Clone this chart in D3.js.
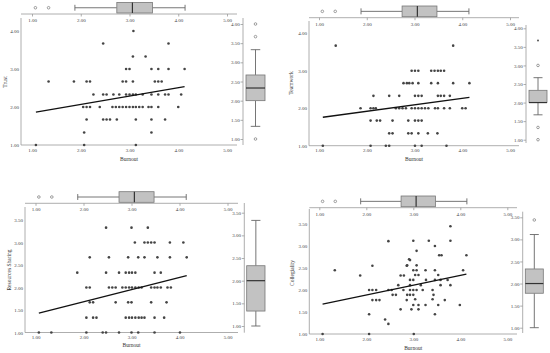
<!DOCTYPE html>
<html>
<head>
<meta charset="utf-8">
<script src="https://cdn.jsdelivr.net/npm/d3@7"></script>
<style>
  body { margin: 0; background: #fff; }
  text { font-family: "Liberation Serif", "DejaVu Serif", serif; fill: #333; }
</style>
</head>
<body>
<script>
// ---------------------------------------------------------------
// DATA
// ---------------------------------------------------------------
var xTicks = [1, 2, 3, 4, 5]

// burnout distribution (top boxplot, same in every panel)
var burnoutStats    = [1.88, 2.74, 3.06, 3.47, 4.14]   // lo whisker, q1, median, q3, hi whisker
var burnoutOutliers = [1.07, 1.34]

// Trust
var trustScore = [4.00, 3.67, 3.33, 3.00, 2.67, 2.33, 2.00, 1.67, 1.33, 1.00]
var trustBurnout = [
  [3.08],
  [2.46, 3.80],
  [3.07, 3.33],
  [2.93, 3.00, 3.45, 3.59, 3.80, 4.13],
  [1.34, 1.86, 2.12, 2.19, 2.86, 2.93, 3.07, 3.52, 3.59, 3.66],
  [2.26, 2.46, 2.53, 2.67, 2.79, 2.93, 3.00, 3.07, 3.13, 3.27, 3.45, 3.59, 3.73, 3.80, 4.06],
  [2.05, 2.12, 2.19, 2.39, 2.65, 2.72, 2.79, 2.86, 2.93, 3.00, 3.07, 3.13, 3.20, 3.27, 3.39, 3.45, 3.59, 4.00],
  [2.12, 2.46, 2.53, 2.60, 2.74, 3.13, 3.45, 3.73],
  [2.07, 3.45],
  [1.08, 2.07, 3.13]
]
var trustFit      = [1.63, 0.22]        // intercept, slope
var trustStats    = [1.33, 2.00, 2.33, 2.67, 3.33]
var trustOutliers = [1.00, 3.67, 4.00]
var trustExtremes = []

// Teamwork
var teamworkScore = [3.67, 3.00, 2.67, 2.33, 2.00, 1.67, 1.33, 1.00]
var teamworkBurnout = [
  [1.35, 3.81],
  [2.94, 3.01, 3.08, 3.35, 3.42, 3.49, 3.55, 3.62],
  [2.77, 2.84, 2.89, 2.96, 3.08, 3.35, 3.49, 3.81, 4.15],
  [2.14, 2.47, 2.68, 3.01, 3.08, 3.15, 3.49, 3.55, 3.62, 3.74],
  [1.87, 2.08, 2.14, 2.19, 2.61, 2.68, 2.75, 2.82, 2.94, 3.01, 3.08, 3.15, 3.22, 3.29, 3.43, 3.49, 3.62, 3.74, 4.00, 4.07],
  [2.08, 2.21, 2.28, 2.54, 2.87, 3.01, 3.08, 3.15],
  [2.47, 2.54, 2.87, 2.94, 3.08, 3.28, 3.48],
  [1.08, 2.08, 2.40, 2.47, 3.01, 3.15, 3.67]
]
var teamworkFit      = [1.573, 0.173]
var teamworkStats    = [1.67, 2.00, 2.00, 2.33, 2.67]
var teamworkOutliers = [1.00, 1.33, 3.00]
var teamworkExtremes = [3.67]

// Resources Sharing
var sharingScore = [3.33, 3.00, 2.67, 2.33, 2.00, 1.67, 1.33, 1.00]
var sharingBurnout = [
  [2.47, 3.00, 3.34],
  [3.07, 3.27, 3.34, 3.41, 3.48, 3.80, 4.08],
  [2.13, 2.53, 2.93, 3.14, 3.27, 3.54, 3.80, 4.15],
  [1.87, 2.47, 2.74, 2.88, 2.95, 3.01, 3.08, 3.48, 3.61],
  [2.06, 2.13, 2.53, 2.60, 2.67, 2.81, 2.88, 2.95, 3.01, 3.08, 3.15, 3.21, 3.41, 3.48, 3.54, 3.61, 3.75, 3.82],
  [2.13, 2.20, 2.67, 2.93, 3.00, 3.41, 3.73],
  [2.06, 2.20, 2.27, 2.88, 2.95, 3.01, 3.08, 3.15, 3.21, 3.27, 3.48, 3.68],
  [1.07, 1.33, 2.06, 2.40, 2.47, 2.74, 3.00, 3.14, 3.48, 4.01]
]
var sharingFit      = [1.141, 0.27]
var sharingStats    = [1.00, 1.33, 2.00, 2.33, 3.33]
var sharingOutliers = []
var sharingExtremes = []

// Collegiality  [burnout, collegiality]
var collegialityPoints = [
  [1.07,1.00],[1.33,2.45],[1.87,2.33],[2.06,2.00],[2.13,2.00],[2.21,2.00],[2.13,2.55],[2.47,3.11],
  [2.47,2.00],[2.54,2.00],[2.13,1.77],[2.21,1.77],[2.28,1.77],[2.56,1.89],[2.63,1.89],[2.68,2.11],
  [2.73,2.33],[2.80,2.33],[2.79,2.00],[2.86,1.77],[2.73,1.56],[2.86,2.55],[2.91,2.70],[2.06,1.45],
  [2.40,1.33],[2.47,1.23],[2.06,1.00],[2.87,1.89],
  [3.79,3.45],[3.00,3.12],[3.33,3.12],[3.79,3.12],[3.46,3.00],[3.07,2.89],[3.55,2.79],[3.60,2.79],
  [2.93,2.68],[4.13,2.79],[2.87,2.56],[3.07,2.56],[3.00,2.45],[3.07,2.45],[3.26,2.45],[3.46,2.45],[4.06,2.45],
  [3.04,2.34],[3.11,2.34],[3.53,2.34],[2.93,2.23],[3.00,2.23],[3.27,2.23],[3.46,2.23],[3.58,2.23],[3.73,2.23],
  [2.93,2.11],[3.16,2.11],[3.58,2.11],[3.79,2.11],[2.93,2.00],[3.00,2.00],[3.07,2.00],[3.20,2.00],[3.41,2.00],
  [2.93,1.89],[3.00,1.89],[3.43,1.89],[3.04,1.79],[3.41,1.79],[3.67,1.77],[3.00,1.66],[3.11,1.66],[3.26,1.66],
  [3.53,1.66],[3.99,1.66],[2.96,1.56],[3.11,1.56],[3.46,1.45],[3.01,1.00]
]
var collegialityFit      = [1.442, 0.222]
var collegialityStats    = [1.00, 1.78, 2.00, 2.33, 3.11]
var collegialityOutliers = [3.44]
var collegialityExtremes = []

var ticks4  = [1, 2, 3, 4]
var ticks35 = [1, 1.5, 2, 2.5, 3, 3.5]
var ticksR4 = [1, 1.5, 2, 2.5, 3, 3.5, 4]

// ---------------------------------------------------------------
// HELPERS
// ---------------------------------------------------------------
function levels (scores, burn) {
  return scores.flatMap(function (s, i) { return burn[i].map(function (b) { return [b, s] }) })
}

var fmt = d3.format(".2f")

// ---------------------------------------------------------------
// PANELS (layout + data references)
// ---------------------------------------------------------------
var panels = [
  { name: "Trust", pts: levels(trustScore, trustBurnout), fit: trustFit,
    stats: trustStats, outs: trustOutliers, ext: trustExtremes, yMax: 4, yTicks: ticks4, rTicks: ticksR4,
    x1: 32, x5: 227, left: 21, right: 237, top: 18, bottom: 145, yRange: [145, 31],
    topAxis: 14, boxY: [2.5, 13], rX: 243, rRange: [139, 24], rTop: 18, rBottom: 145, boxX: [246, 265],
    titleX: 5, titleY: 82, burnY: 161 },
  { name: "Teamwork", pts: levels(teamworkScore, teamworkBurnout), fit: teamworkFit,
    stats: teamworkStats, outs: teamworkOutliers, ext: teamworkExtremes, yMax: 4, yTicks: ticks4, rTicks: ticksR4,
    x1: 319, x5: 510, left: 309, right: 519, top: 21, bottom: 145.7, yRange: [145.7, 33.3],
    topAxis: 17.7, boxY: [6, 16.7], rX: 526, rRange: [139.7, 28.3], rTop: 25, rBottom: 143, boxX: [529, 547],
    titleX: 291, titleY: 83, burnY: 161 },
  { name: "Resources Sharing", pts: levels(sharingScore, sharingBurnout), fit: sharingFit,
    stats: sharingStats, outs: sharingOutliers, ext: sharingExtremes, yMax: 3.5, yTicks: ticks35, rTicks: ticks35,
    x1: 35.5, x5: 227.5, left: 25, right: 238, top: 207, bottom: 332.5, yRange: [332.5, 220],
    topAxis: 203.3, boxY: [191.7, 202.3], rX: 244.3, rRange: [326, 212.7], rTop: 203, rBottom: 332.7, boxX: [246.7, 265],
    titleX: 9, titleY: 270, burnY: 347 },
  { name: "Collegiality", pts: collegialityPoints, fit: collegialityFit,
    stats: collegialityStats, outs: collegialityOutliers, ext: collegialityExtremes, yMax: 3.5, yTicks: ticks35, rTicks: ticks35,
    x1: 319.3, x5: 507.3, left: 309.3, right: 517, top: 209, bottom: 334, yRange: [334, 224],
    topAxis: 207.7, boxY: [196, 206.7], rX: 522.7, rRange: [327.7, 217.3], rTop: 211.7, rBottom: 333, boxX: [525.3, 543.3],
    titleX: 292, titleY: 273, burnY: 349.5 }
]

var svg = d3.select("body").append("svg")
  .attr("width", 550).attr("height", 353)

var axisCol = "#999", boxFill = "#c2c2c2", boxStroke = "#777"

function styleAxis (g, size) {
  g.attr("font-family", null).attr("font-size", null)
  g.select(".domain").remove()
  g.selectAll("line").attr("stroke", axisCol).attr("stroke-width", 0.8)
  g.selectAll("text").style("font-size", size + "px").style("fill", "#444")
}

panels.forEach(function (p) {
  var g = svg.append("g")
  var x = d3.scaleLinear().domain([1, 5]).range([p.x1, p.x5])
  var y = d3.scaleLinear().domain([1, p.yMax]).range(p.yRange)
  var r = d3.scaleLinear().domain([1, p.yMax]).range(p.rRange)

  // --- scatter axes
  g.append("line").attr("x1", p.left).attr("x2", p.left).attr("y1", p.top).attr("y2", p.bottom)
    .attr("stroke", axisCol).attr("stroke-width", 0.8)
  g.append("line").attr("x1", p.left).attr("x2", p.right).attr("y1", p.bottom).attr("y2", p.bottom)
    .attr("stroke", axisCol).attr("stroke-width", 0.8)

  g.append("g").attr("transform", "translate(0," + p.bottom + ")")
    .call(d3.axisBottom(x).tickValues(xTicks).tickFormat(fmt).tickSize(0).tickPadding(3))
    .call(styleAxis, 5)
  g.append("g").attr("transform", "translate(" + (p.left - 0.5) + ",0)")
    .call(d3.axisLeft(y).tickValues(p.yTicks).tickFormat(fmt).tickSize(0).tickPadding(1.5))
    .call(styleAxis, 5)

  // --- top axis + burnout boxplot
  g.append("line").attr("x1", p.left).attr("x2", p.right).attr("y1", p.topAxis).attr("y2", p.topAxis)
    .attr("stroke", axisCol).attr("stroke-width", 0.8)
  g.append("g").attr("transform", "translate(0," + p.topAxis + ")")
    .call(d3.axisBottom(x).tickValues(xTicks).tickFormat(fmt).tickSize(2.5).tickPadding(2))
    .call(styleAxis, 5)

  var bs = burnoutStats, by0 = p.boxY[0], by1 = p.boxY[1], bym = (by0 + by1) / 2, bh = by1 - by0
  var tb = g.append("g")
  tb.append("line").attr("x1", x(bs[0])).attr("x2", x(bs[1])).attr("y1", bym).attr("y2", bym)
  tb.append("line").attr("x1", x(bs[3])).attr("x2", x(bs[4])).attr("y1", bym).attr("y2", bym)
  tb.selectAll(".cap").data([bs[0], bs[4]]).join("line")
    .attr("x1", function (d) { return x(d) }).attr("x2", function (d) { return x(d) })
    .attr("y1", bym - bh * 0.28).attr("y2", bym + bh * 0.28)
  tb.selectAll("line").attr("stroke", "#666").attr("stroke-width", 0.9)
  tb.append("rect").attr("x", x(bs[1])).attr("width", x(bs[3]) - x(bs[1]))
    .attr("y", by0).attr("height", bh)
    .attr("fill", boxFill).attr("stroke", boxStroke).attr("stroke-width", 0.8)
  tb.append("line").attr("x1", x(bs[2])).attr("x2", x(bs[2])).attr("y1", by0).attr("y2", by1)
    .attr("stroke", "#333").attr("stroke-width", 1.2)
  tb.selectAll(".out").data(burnoutOutliers).join("circle")
    .attr("cx", function (d) { return x(d) }).attr("cy", bym).attr("r", 1.3)
    .attr("fill", "#fff").attr("stroke", "#777").attr("stroke-width", 0.7)

  // --- right axis + score boxplot
  g.append("line").attr("x1", p.rX).attr("x2", p.rX).attr("y1", p.rTop).attr("y2", p.rBottom)
    .attr("stroke", axisCol).attr("stroke-width", 0.8)
  g.append("g").attr("transform", "translate(" + p.rX + ",0)")
    .call(d3.axisLeft(r).tickValues(p.rTicks).tickFormat(fmt).tickSize(2.5).tickPadding(0.8))
    .call(styleAxis, 5)

  var s = p.stats, bx0 = p.boxX[0], bx1 = p.boxX[1], bxm = (bx0 + bx1) / 2, bw = bx1 - bx0
  var rb = g.append("g")
  rb.append("line").attr("x1", bxm).attr("x2", bxm).attr("y1", r(s[0])).attr("y2", r(s[1]))
  rb.append("line").attr("x1", bxm).attr("x2", bxm).attr("y1", r(s[3])).attr("y2", r(s[4]))
  rb.selectAll(".cap").data([s[0], s[4]]).join("line")
    .attr("x1", bxm - bw * 0.25).attr("x2", bxm + bw * 0.25)
    .attr("y1", function (d) { return r(d) }).attr("y2", function (d) { return r(d) })
  rb.selectAll("line").attr("stroke", "#666").attr("stroke-width", 0.9)
  rb.append("rect").attr("x", bx0).attr("width", bw)
    .attr("y", r(s[3])).attr("height", r(s[1]) - r(s[3]))
    .attr("fill", boxFill).attr("stroke", boxStroke).attr("stroke-width", 0.8)
  rb.append("line").attr("x1", bx0).attr("x2", bx1).attr("y1", r(s[2])).attr("y2", r(s[2]))
    .attr("stroke", "#333").attr("stroke-width", 1.2)
  rb.selectAll(".out").data(p.outs).join("circle")
    .attr("cx", bxm).attr("cy", function (d) { return r(d) }).attr("r", 1.3)
    .attr("fill", "#fff").attr("stroke", "#777").attr("stroke-width", 0.7)
  rb.selectAll(".ext").data(p.ext).join("circle")
    .attr("cx", bxm).attr("cy", function (d) { return r(d) }).attr("r", 1)
    .attr("fill", "#555")

  // --- points
  g.selectAll(".pt").data(p.pts).join("circle")
    .attr("cx", function (d) { return x(d[0]) })
    .attr("cy", function (d) { return y(d[1]) })
    .attr("r", 1.3).attr("fill", "#444")

  // --- fit line over burnout range
  var xr = d3.extent(p.pts, function (d) { return d[0] })
  g.append("path")
    .datum(xr.map(function (v) { return [v, p.fit[0] + p.fit[1] * v] }))
    .attr("d", d3.line().x(function (d) { return x(d[0]) }).y(function (d) { return y(d[1]) }))
    .attr("stroke", "#111").attr("stroke-width", 1.3).attr("fill", "none")

  // --- titles
  g.append("text").attr("x", (p.left + p.right) / 2).attr("y", p.burnY)
    .attr("text-anchor", "middle").style("font-size", "5.5px").text("Burnout")
  g.append("text").attr("transform", "translate(" + p.titleX + "," + p.titleY + ") rotate(-90)")
    .attr("text-anchor", "middle").attr("dy", "0.35em").style("font-size", "5.5px").text(p.name)
})
</script>
</body>
</html>
